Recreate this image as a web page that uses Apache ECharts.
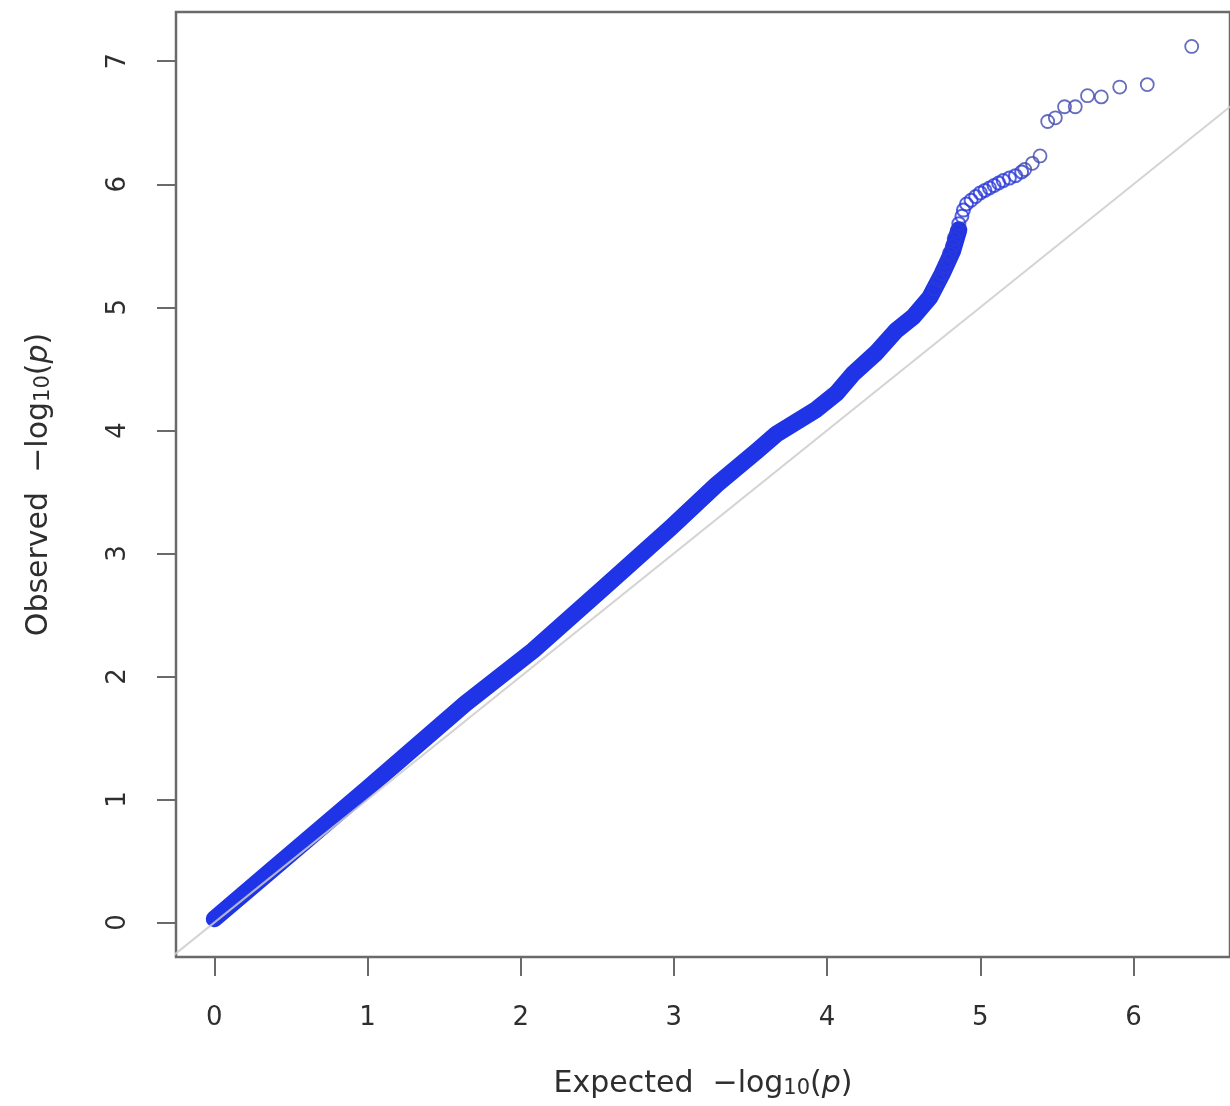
<!DOCTYPE html>
<html>
<head>
<meta charset="utf-8">
<script src="https://cdn.jsdelivr.net/npm/echarts@6/dist/echarts.min.js"></script>
<style>
html,body{margin:0;padding:0;background:#fff;}
#chart{width:1230px;height:1106px;}
</style>
</head>
<body>
<div id="chart"></div>
<script>
// ---- data ----
const xTicks = [0, 1, 2, 3, 4, 5, 6];
const yTicks = [0, 1, 2, 3, 4, 5, 6, 7];

// dense body of the QQ curve (drawn as a continuous band of overlapping points)
const bandExpected = [0.00, 0.34, 0.99, 1.64, 2.08, 2.55, 2.98, 3.28, 3.54, 3.67, 3.80, 3.93, 4.06, 4.17, 4.32, 4.45, 4.56, 4.67, 4.75, 4.82, 4.86];
const bandObserved = [0.03, 0.39, 1.08, 1.78, 2.21, 2.73, 3.21, 3.56, 3.83, 3.97, 4.07, 4.17, 4.30, 4.46, 4.63, 4.81, 4.92, 5.08, 5.27, 5.46, 5.63];

// upper cluster of overlapping circles
const clusterExpected = [4.70, 4.73, 4.75, 4.77, 4.79, 4.80, 4.82, 4.83, 4.85, 4.86, 4.88, 4.89, 4.91, 4.94, 4.97, 5.00, 5.03, 5.06, 5.09, 5.12, 5.15, 5.19, 5.23, 5.27];
const clusterObserved = [5.15, 5.22, 5.27, 5.33, 5.38, 5.44, 5.50, 5.56, 5.62, 5.68, 5.74, 5.79, 5.84, 5.87, 5.90, 5.93, 5.95, 5.97, 5.99, 6.01, 6.03, 6.05, 6.07, 6.10];

// isolated top points
const tailExpected = [5.29, 5.34, 5.39, 5.44, 5.49, 5.55, 5.62, 5.70, 5.79, 5.91, 6.09, 6.38];
const tailObserved = [6.12, 6.17, 6.23, 6.51, 6.54, 6.63, 6.63, 6.72, 6.71, 6.79, 6.81, 7.12];

// y = x reference line endpoints
const diagEnds = [-0.4, 7.6];

const xTitle = '{a|Expected  \u2212log}{s|10}{a|(}{i|p}{a|)}';
const yTitle = '{a|Observed  \u2212log}{s|10}{a|(}{i|p}{a|)}';

// ---- chart ----
const zip = (a, b) => a.map((v, i) => [v, b[i]]);
const FONT = 'DejaVu Sans';
const TXT = '#2e2e2e';
const AX = '#6a6a6a';
const titleRich = {
  a: {fontSize: 30, fontFamily: FONT, color: TXT, lineHeight: 36, verticalAlign: 'bottom'},
  s: {fontSize: 21, fontFamily: FONT, color: TXT, lineHeight: 21, verticalAlign: 'bottom'},
  i: {fontSize: 30, fontFamily: FONT, color: TXT, lineHeight: 36, fontStyle: 'italic', verticalAlign: 'bottom'}
};

const chart = echarts.init(document.getElementById('chart'), null, {renderer: 'canvas'});
chart.setOption({
  animation: false,
  backgroundColor: '#ffffff',
  grid: {left: 176, top: 12, width: 1060, height: 945, show: true, borderColor: AX, borderWidth: 2.5, backgroundColor: 'transparent'},
  xAxis: {
    type: 'value', min: -0.25, max: 6.63,
    name: xTitle, nameLocation: 'middle', nameGap: 106,
    nameTextStyle: {rich: titleRich},
    axisLine: {show: false, onZero: false},
    axisTick: {show: true, length: 19, inside: false, customValues: xTicks, lineStyle: {color: AX, width: 2}},
    axisLabel: {customValues: xTicks, margin: 48, fontSize: 26, fontFamily: FONT, color: TXT},
    splitLine: {show: false}
  },
  yAxis: {
    type: 'value', min: -0.28, max: 7.4,
    name: yTitle, nameLocation: 'middle', nameGap: 122,
    nameTextStyle: {rich: titleRich},
    axisLine: {show: false, onZero: false},
    axisTick: {show: true, length: 19, inside: false, customValues: yTicks, lineStyle: {color: AX, width: 2}},
    axisLabel: {customValues: yTicks, rotate: 90, margin: 45, fontSize: 26, fontFamily: FONT, color: TXT},
    splitLine: {show: false}
  },
  series: [
    {
      type: 'line', data: zip(bandExpected, bandObserved), showSymbol: false, symbol: 'none',
      lineStyle: {color: '#1f34e6', width: 17, cap: 'round', join: 'round'}, z: 2, silent: true
    },
    {
      type: 'scatter', data: zip(clusterExpected, clusterObserved), symbol: 'circle', symbolSize: 13,
      itemStyle: {color: 'rgba(0,0,0,0)', borderColor: '#2a3ad8', borderWidth: 2}, z: 3, silent: true
    },
    {
      type: 'scatter', data: zip(tailExpected, tailObserved), symbol: 'circle', symbolSize: 13,
      itemStyle: {color: 'rgba(0,0,0,0)', borderColor: '#4149ad', borderWidth: 1.8}, z: 3, silent: true
    },
    {
      type: 'line', data: [[diagEnds[0], diagEnds[0]], [diagEnds[1], diagEnds[1]]], showSymbol: false, symbol: 'none',
      lineStyle: {color: 'rgba(205,205,205,0.85)', width: 2}, z: 4, silent: true, clip: true
    }
  ]
});
</script>
</body>
</html>
